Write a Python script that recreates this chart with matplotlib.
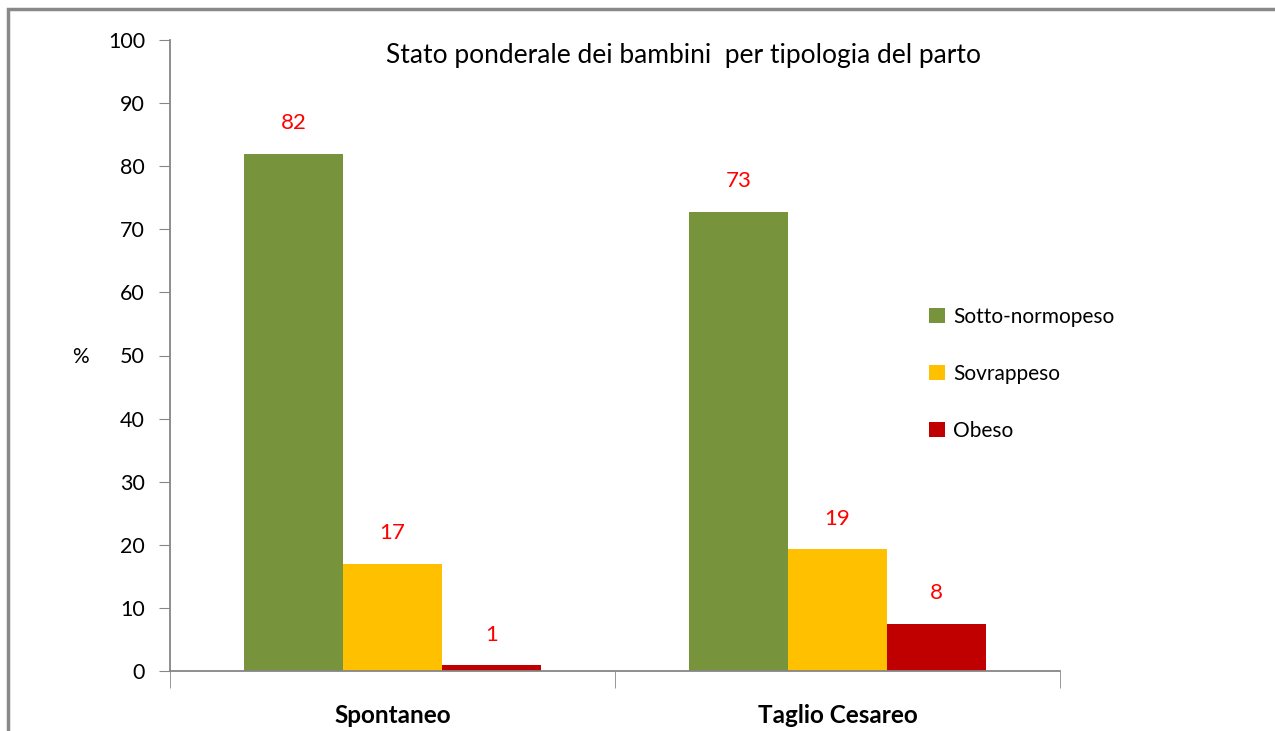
import matplotlib
matplotlib.use("Agg")
import matplotlib.pyplot as plt
from matplotlib.patches import Rectangle
import numpy as np

categories = ["Spontaneo", "Taglio Cesareo"]
series_names = ["Sotto-normopeso", "Sovrappeso", "Obeso"]
sotto = [82.0, 72.8]
sovra = [17.0, 19.3]
obeso = [0.9, 7.5]
yticks = [0, 10, 20, 30, 40, 50, 60, 70, 80, 90, 100]
title = "Stato ponderale dei bambini  per tipologia del parto"

colors = ["#77933C", "#FFC000", "#C00000"]
plt.rcParams['font.family'] = ['Lato', 'DejaVu Sans']

fig = plt.figure(figsize=(12.75, 7.31), dpi=100)
fig.patch.set_facecolor("white")
ax = fig.add_axes([170/1275, 1-671/731, 890/1275, (671-40)/731])

x = np.arange(len(categories))
w = 0.222
data = [sotto, sovra, obeso]
for i, (vals, name, c) in enumerate(zip(data, series_names, colors)):
    bars = ax.bar(x + (i-1)*w, vals, width=w, color=c, label=name, zorder=2)
    for b, v in zip(bars, vals):
        ax.annotate(f"{v:.0f}", (b.get_x()+b.get_width()/2, v), xytext=(0, 22),
                    textcoords="offset points", ha="center", va="center",
                    color="#FF0000", fontsize=16)

ax.set_xlim(-0.5, 1.5)
ax.set_ylim(0, 100)
ax.set_yticks(yticks)
ax.tick_params(axis='y', direction='out', length=8, color='#868686', labelsize=15.5, pad=10)
ax.set_xticks(x)
ax.set_xticklabels(categories, fontsize=17.5, fontweight='bold')
ax.tick_params(axis='x', which='major', length=0, pad=24)
ax.set_xticks([-0.5, 0.5, 1.5], minor=True)
ax.tick_params(axis='x', which='minor', direction='out', length=12, color='#868686')
for s in ['top', 'right']:
    ax.spines[s].set_visible(False)
for s in ['left', 'bottom']:
    ax.spines[s].set_color('#868686')
    ax.spines[s].set_linewidth(1.3)

fig.text(684/1275, 1-55/731, title, ha='center', va='center', fontsize=19)
fig.text(80/1275, 1-357/731, "%", ha='center', va='center', fontsize=15)

ax.legend(loc='center left', bbox_to_anchor=(929/1275, 1-374/731), bbox_transform=fig.transFigure,
          frameon=False, fontsize=15, handlelength=0.75, handleheight=0.75, handletextpad=0.4,
          labelspacing=1.78, borderpad=0, borderaxespad=0)

fig.patches.append(Rectangle((8/1275, -0.1), 1.2, 1-9/731+0.1, transform=fig.transFigure,
                             fill=False, edgecolor='#898989', linewidth=2.5))

fig.savefig("out.png", dpi=100)
